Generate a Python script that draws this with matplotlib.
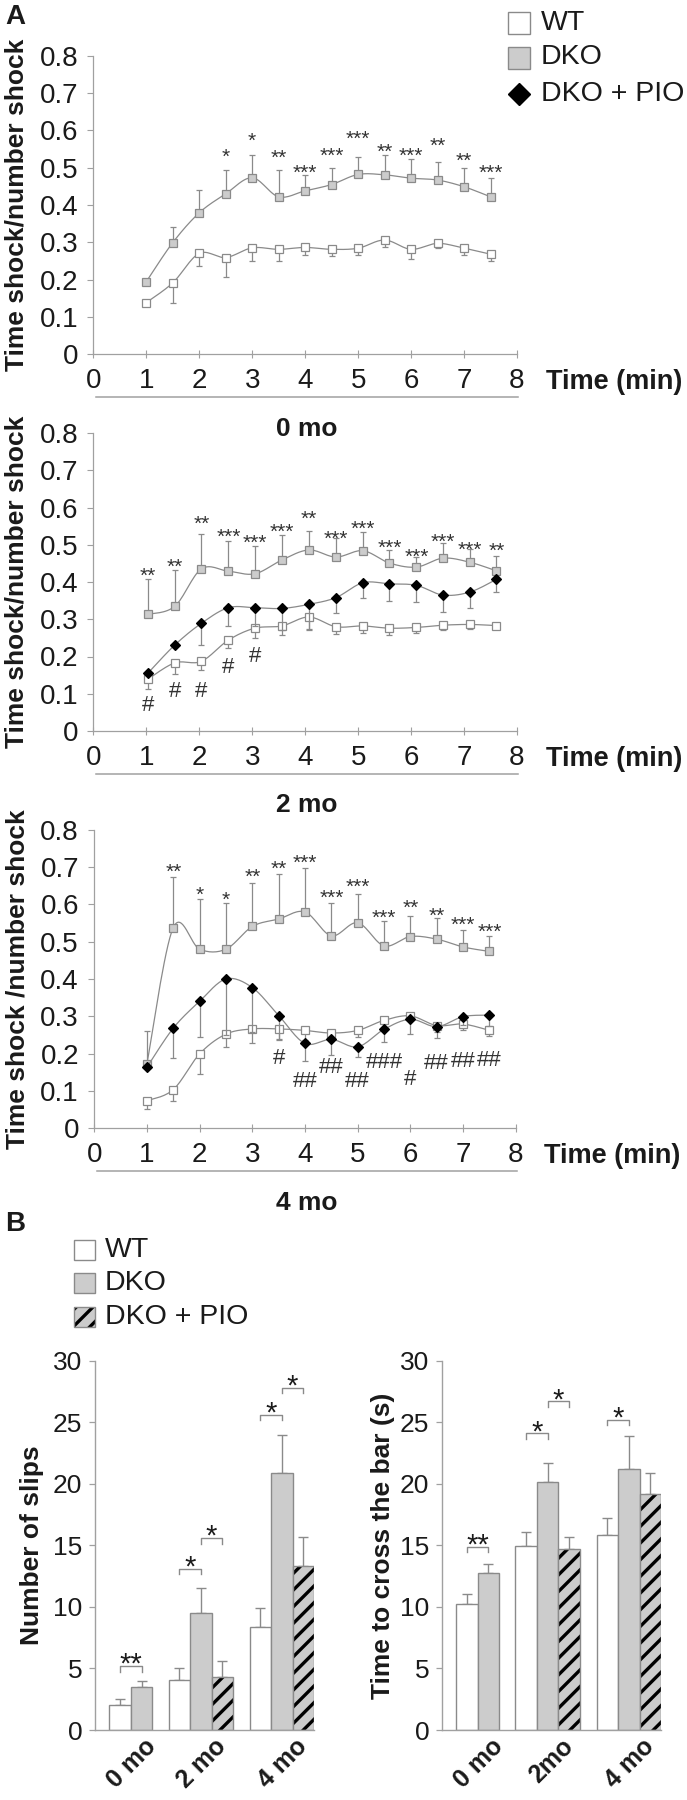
import numpy as np
import matplotlib
matplotlib.use("Agg")
import matplotlib.pyplot as plt
from matplotlib import font_manager
from matplotlib.patches import Rectangle


def pick_font(names):
    avail = {f.name for f in font_manager.fontManager.ttflist}
    for n in names:
        if n in avail:
            return n
    return "DejaVu Sans"


SANS = pick_font(["Liberation Sans", "Arial", "DejaVu Sans"])
plt.rcParams['font.family'] = [SANS, 'DejaVu Sans']
plt.rcParams['hatch.linewidth'] = 2.4

# ---------------- Panel A data ----------------
TIME = [1, 1.5, 2, 2.5, 3, 3.5, 4, 4.5, 5, 5.5, 6, 6.5, 7, 7.5]
TIME_2MO = [1.03, 1.54, 2.04, 2.55, 3.05, 3.56, 4.07, 4.58, 5.09, 5.59, 6.10, 6.60, 7.11, 7.61]

# 0 mo
WT_0MO = [0.138, 0.191, 0.270, 0.259, 0.285, 0.281, 0.286, 0.281, 0.284, 0.306, 0.281, 0.297, 0.284, 0.268]
WT_0MO_SEM = [0.0, 0.055, 0.034, 0.053, 0.035, 0.031, 0.021, 0.019, 0.019, 0.020, 0.027, 0.013, 0.019, 0.018]
DKO_0MO = [0.194, 0.299, 0.379, 0.430, 0.473, 0.422, 0.438, 0.455, 0.482, 0.481, 0.472, 0.467, 0.449, 0.422]
DKO_0MO_SEM = [0.0, 0.043, 0.061, 0.064, 0.061, 0.071, 0.043, 0.043, 0.046, 0.053, 0.051, 0.048, 0.049, 0.050]
STARS_0MO = ['', '', '', '*', '*', '**', '***', '***', '***', '**', '***', '**', '**', '***']
STARS_0MO_Y = [0, 0, 0, 0.548, 0.590, 0.543, 0.503, 0.550, 0.594, 0.560, 0.550, 0.575, 0.535, 0.503]

# 2 mo
WT_2MO = [0.139, 0.183, 0.187, 0.244, 0.276, 0.282, 0.306, 0.280, 0.282, 0.276, 0.278, 0.284, 0.286, 0.283]
WT_2MO_SEM = [0.026, 0.029, 0.024, 0.022, 0.025, 0.023, 0.033, 0.020, 0.018, 0.018, 0.014, 0.014, 0.013, 0.010]
DKO_2MO = [0.313, 0.335, 0.435, 0.429, 0.422, 0.459, 0.486, 0.467, 0.484, 0.451, 0.440, 0.464, 0.453, 0.430]
DKO_2MO_SEM = [0.094, 0.096, 0.094, 0.081, 0.074, 0.066, 0.051, 0.050, 0.050, 0.034, 0.027, 0.041, 0.036, 0.039]
PIO_2MO = [0.155, 0.231, 0.289, 0.331, 0.331, 0.329, 0.340, 0.358, 0.398, 0.395, 0.391, 0.365, 0.373, 0.407]
PIO_2MO_SEM = [0.0, 0.0, 0.057, 0.050, 0.050, 0.059, 0.070, 0.041, 0.042, 0.045, 0.044, 0.045, 0.042, 0.034]
STARS_2MO = ['**', '**', '**', '***', '***', '***', '**', '***', '***', '***', '***', '***', '***', '**']
STARS_2MO_Y = [0.433, 0.458, 0.574, 0.538, 0.523, 0.552, 0.586, 0.533, 0.561, 0.510, 0.484, 0.526, 0.505, 0.500]
HASH_2MO = ['#', '#', '#', '#', '#', '', '', '', '', '', '', '', '', '']
HASH_2MO_Y = [0.074, 0.113, 0.113, 0.177, 0.206, 0, 0, 0, 0, 0, 0, 0, 0, 0]

# 4 mo
WT_4MO = [0.073, 0.103, 0.199, 0.252, 0.266, 0.266, 0.262, 0.255, 0.262, 0.289, 0.301, 0.275, 0.279, 0.262]
WT_4MO_SEM = [0.022, 0.030, 0.053, 0.034, 0.038, 0.027, 0.025, 0.018, 0.018, 0.021, 0.011, 0.016, 0.016, 0.016]
DKO_4MO = [0.172, 0.538, 0.480, 0.480, 0.541, 0.561, 0.580, 0.516, 0.551, 0.489, 0.514, 0.507, 0.486, 0.474]
DKO_4MO_SEM = [0.089, 0.135, 0.134, 0.123, 0.116, 0.121, 0.117, 0.089, 0.076, 0.067, 0.056, 0.056, 0.045, 0.042]
PIO_4MO = [0.163, 0.268, 0.340, 0.400, 0.377, 0.302, 0.227, 0.238, 0.218, 0.265, 0.292, 0.272, 0.299, 0.303]
PIO_4MO_SEM = [0.0, 0.080, 0.096, 0.150, 0.120, 0.065, 0.048, 0.041, 0.028, 0.033, 0.040, 0.031, 0.022, 0.030]
STARS_4MO = ['', '**', '*', '*', '**', '**', '***', '***', '***', '***', '**', '**', '***', '***']
STARS_4MO_Y = [0, 0.706, 0.644, 0.630, 0.693, 0.712, 0.728, 0.635, 0.664, 0.581, 0.608, 0.587, 0.563, 0.545]
HASH_4MO = ['', '', '', '', '', '#', '##', '##', '##', '###', '#', '##', '##', '##']
HASH_4MO_Y = [0, 0, 0, 0, 0, 0.192, 0.130, 0.167, 0.130, 0.181, 0.136, 0.179, 0.183, 0.186]

# ---------------- Panel B data ----------------
AGE_LABELS_SLIPS = ['0 mo', '2 mo', '4 mo']
AGE_LABELS_TIME = ['0 mo', '2mo', '4 mo']

SLIPS_WT = [2.0, 4.1, 8.34]
SLIPS_WT_SEM = [0.53, 0.95, 1.58]
SLIPS_DKO = [3.49, 9.47, 20.9]
SLIPS_DKO_SEM = [0.53, 2.09, 3.07]
SLIPS_PIO = [np.nan, 4.32, 13.32]
SLIPS_PIO_SEM = [np.nan, 1.25, 2.32]
SLIPS_SIG = [(0, 'WT', 'DKO', 5.2, '**'), (1, 'WT', 'DKO', 13.1, '*'), (1, 'DKO', 'PIO', 15.6, '*'),
             (2, 'WT', 'DKO', 25.6, '*'), (2, 'DKO', 'PIO', 27.8, '*')]

CROSS_WT = [10.22, 14.95, 15.88]
CROSS_WT_SEM = [0.80, 1.14, 1.34]
CROSS_DKO = [12.72, 20.14, 21.21]
CROSS_DKO_SEM = [0.77, 1.55, 2.68]
CROSS_PIO = [np.nan, 14.69, 19.15]
CROSS_PIO_SEM = [np.nan, 1.01, 1.76]
CROSS_SIG = [(0, 'WT', 'DKO', 14.9, '**'), (1, 'WT', 'DKO', 24.1, '*'), (1, 'DKO', 'PIO', 26.7, '*'),
             (2, 'WT', 'DKO', 25.2, '*')]

GRAY = '#8a8a8a'
DKO_FILL = '#cccccc'
TXT = '#1a1a1a'

STYLE = {
    'WT': dict(marker='s', ms=6.4, mfc='white', mec=GRAY),
    'DKO': dict(marker='s', ms=6.4, mfc=DKO_FILL, mec=GRAY),
    'PIO': dict(marker='D', ms=4.6, mfc='black', mec='black'),
}


def smooth(x, y, n=16):
    # Excel-like smoothed connector (Catmull-Rom through the points)
    x = np.asarray(x, float)
    y = np.asarray(y, float)
    px = np.r_[x[0], x, x[-1]]
    py = np.r_[y[0], y, y[-1]]
    t = np.linspace(0, 1, n, endpoint=False)
    xs, ys = [], []
    for i in range(1, len(px) - 2):
        for arr, out in ((px, xs), (py, ys)):
            p0, p1, p2, p3 = arr[i - 1:i + 3]
            out.extend(0.5 * (2 * p1 + (-p0 + p2) * t + (2 * p0 - 5 * p1 + 4 * p2 - p3) * t ** 2
                              + (-p0 + 3 * p1 - 3 * p2 + p3) * t ** 3))
    xs.append(x[-1])
    ys.append(y[-1])
    return xs, ys


def draw_series(ax, x, y, sem, up, key, z):
    xs, ys = smooth(x, y)
    ax.plot(xs, ys, color=GRAY, lw=0.9, zorder=z)
    sem = np.asarray(sem)
    yerr = [np.zeros_like(sem), sem] if up else [sem, np.zeros_like(sem)]
    ax.errorbar(x, y, yerr=yerr, fmt='none', ecolor=GRAY, elinewidth=0.9, capsize=2.3,
                capthick=0.9, zorder=z - 0.5)
    ax.plot(x, y, ls='none', mew=0.9, zorder=z + 0.2, **STYLE[key])


def marks(ax, x, labels, ys, size, dy):
    for xi, s, yi in zip(x, labels, ys):
        if s:
            ax.annotate(s, (xi, yi), xytext=(0, dy), textcoords='offset points',
                        ha='center', va='baseline', fontsize=size, color='#333333')


def line_panel(ax, x, series, stars, stars_y, hashes, hashes_y, ylabel, title):
    for z, (y, sem, up, key) in enumerate(series):
        draw_series(ax, x, y, sem, up, key, 3 + 2 * z)
    marks(ax, x, stars, stars_y, 15, -9)
    if hashes is not None:
        marks(ax, x, hashes, hashes_y, 16, -5.5)
    ax.set_xlim(0, 8)
    ax.set_ylim(0, 0.8)
    ax.set_xticks(range(9))
    ax.set_yticks(np.arange(0, 0.81, 0.1))
    ax.set_yticklabels(['0'] + ['%.1f' % v for v in np.arange(0.1, 0.81, 0.1)])
    for s in ('top', 'right'):
        ax.spines[s].set_visible(False)
    for s in ('left', 'bottom'):
        ax.spines[s].set_color('#a0a0a0')
        ax.spines[s].set_linewidth(0.9)
    ax.tick_params(axis='y', direction='out', length=4, width=0.8, color='#a0a0a0',
                   pad=7, labelsize=20, labelcolor=TXT)
    ax.tick_params(axis='x', direction='inout', length=6, width=0.8, color='#a0a0a0',
                   pad=7, labelsize=20, labelcolor=TXT)
    ax.set_facecolor('none')
    ax.set_ylabel(ylabel, fontsize=19, fontweight='bold', color=TXT)
    ax.yaxis.set_label_coords(-0.153, 0.5)
    ax.text(1.0675, -0.094, 'Time (min)', transform=ax.transAxes, ha='left', va='center',
            fontsize=19.5, fontweight='bold', color=TXT)
    ax.plot([0.006, 1.002], [-0.144, -0.144], transform=ax.transAxes, color='#a0a0a0',
            lw=1.1, clip_on=False)
    ax.text(0.504, -0.25, title, transform=ax.transAxes, ha='center', va='center',
            fontsize=19, fontweight='bold', color=TXT)


GROUP_X = [1.67, 4.93, 8.70]


def bar_panel(ax, labels, groups, sig, ylabel, label_x):
    pos = {}
    for i, cx in enumerate(GROUP_X):
        has_pio = not np.isnan(groups['PIO'][0][i])
        offs = {'WT': -1, 'DKO': 0, 'PIO': 1} if has_pio else {'WT': -0.5, 'DKO': 0.5}
        for k, o in offs.items():
            pos[(i, k)] = cx + o
    for k in ('WT', 'DKO', 'PIO'):
        vals, sem = groups[k]
        idx = [i for i in range(3) if not np.isnan(vals[i])]
        xs = [pos[(i, k)] for i in idx]
        hs = [vals[i] for i in idx]
        es = [sem[i] for i in idx]
        if k == 'WT':
            ax.bar(xs, hs, width=1.0, color='white', edgecolor=GRAY, lw=1.0, zorder=2)
        elif k == 'DKO':
            ax.bar(xs, hs, width=1.0, color=DKO_FILL, edgecolor=GRAY, lw=1.0, zorder=2)
        else:
            ax.bar(xs, hs, width=1.0, color=DKO_FILL, edgecolor='black', hatch='//', lw=0, zorder=2)
            ax.bar(xs, hs, width=1.0, fill=False, edgecolor=GRAY, lw=1.0, zorder=2.1)
        ax.errorbar(xs, hs, yerr=[np.zeros(len(es)), es], fmt='none', ecolor=GRAY,
                    elinewidth=1.0, capsize=3.5, capthick=1.0, zorder=1.5)
    for i, a, b, h, s in sig:
        xa, xb = pos[(i, a)], pos[(i, b)]
        ax.plot([xa, xa, xb, xb], [h - 0.45, h, h, h - 0.45], color=GRAY, lw=1.0)
        ax.annotate(s, ((xa + xb) / 2, h), xytext=(0, -5), textcoords='offset points',
                    ha='center', va='baseline', fontsize=21, color=TXT)
    ax.set_xlim(0, 10.2)
    ax.set_ylim(0, 30)
    ax.set_yticks(range(0, 31, 5))
    ax.set_xticks([c + 0.62 for c in GROUP_X])
    ax.set_xticklabels(labels, rotation=45, ha='right', rotation_mode='anchor',
                       fontsize=18, fontweight='bold', color=TXT)
    for s in ('top', 'right'):
        ax.spines[s].set_visible(False)
    for s in ('left', 'bottom'):
        ax.spines[s].set_color('#a0a0a0')
        ax.spines[s].set_linewidth(1.0)
    ax.tick_params(axis='x', length=0, pad=3)
    ax.tick_params(axis='y', direction='out', length=4, width=0.9, color='#a0a0a0',
                   pad=5, labelsize=19, labelcolor=TXT)
    ax.set_facecolor('none')
    ax.set_ylabel(ylabel, fontsize=19, fontweight='bold', color=TXT)
    ax.yaxis.set_label_coords(label_x, 0.5)


fig = plt.figure(figsize=(6.87, 18), dpi=100)
W, H = 687.0, 1800.0


def rect(l, r, t, b):
    return [l / W, 1 - b / H, (r - l) / W, (b - t) / H]


# overlay in pixel coordinates for panel letters and legends
ov = fig.add_axes([0, 0, 1, 1])
ov.set_xlim(0, W)
ov.set_ylim(H, 0)
ov.axis('off')

ax0 = fig.add_axes(rect(93.3, 517, 56, 354))
ax2 = fig.add_axes(rect(93.3, 517, 433, 731))
ax4 = fig.add_axes(rect(94.2, 515.8, 830, 1128))
axs = fig.add_axes(rect(95, 314, 1360.7, 1730))
axt = fig.add_axes(rect(441.7, 661, 1360.7, 1730))

line_panel(ax0, TIME,
           [(DKO_0MO, DKO_0MO_SEM, True, 'DKO'), (WT_0MO, WT_0MO_SEM, False, 'WT')],
           STARS_0MO, STARS_0MO_Y, None, None, 'Time shock/number shock', '0 mo')
line_panel(ax2, TIME_2MO,
           [(DKO_2MO, DKO_2MO_SEM, True, 'DKO'), (WT_2MO, WT_2MO_SEM, False, 'WT'),
            (PIO_2MO, PIO_2MO_SEM, False, 'PIO')],
           STARS_2MO, STARS_2MO_Y, HASH_2MO, HASH_2MO_Y, 'Time shock/number shock', '2 mo')
line_panel(ax4, TIME,
           [(DKO_4MO, DKO_4MO_SEM, True, 'DKO'), (WT_4MO, WT_4MO_SEM, False, 'WT'),
            (PIO_4MO, PIO_4MO_SEM, False, 'PIO')],
           STARS_4MO, STARS_4MO_Y, HASH_4MO, HASH_4MO_Y, 'Time shock /number shock', '4 mo')

bar_panel(axs, AGE_LABELS_SLIPS,
          {'WT': (SLIPS_WT, SLIPS_WT_SEM), 'DKO': (SLIPS_DKO, SLIPS_DKO_SEM),
           'PIO': (SLIPS_PIO, SLIPS_PIO_SEM)},
          SLIPS_SIG, 'Number of slips', -0.233)
bar_panel(axt, AGE_LABELS_TIME,
          {'WT': (CROSS_WT, CROSS_WT_SEM), 'DKO': (CROSS_DKO, CROSS_DKO_SEM),
           'PIO': (CROSS_PIO, CROSS_PIO_SEM)},
          CROSS_SIG, 'Time to cross the bar (s)', -0.213)

# panel letters
ov.text(15, 17, 'A', ha='center', va='center', fontsize=20, fontweight='bold', color=TXT)
ov.text(15, 1224, 'B', ha='center', va='center', fontsize=20, fontweight='bold', color=TXT)

# legend A
LEGEND_NAMES = ['WT', 'DKO', 'DKO + PIO']
for yy, key, name in zip([22.5, 57.5, 94], ['WT', 'DKO', 'PIO'], LEGEND_NAMES):
    st = dict(STYLE[key])
    st['ms'] = 15.5 if key != 'PIO' else 11
    ov.plot([519], [yy], ls='none', mew=1.0, **st)
    ov.text(541, yy, name, ha='left', va='center', fontsize=20.5, color=TXT)

# legend B
for yy, key, name in zip([1250, 1283.3, 1316.7], ['WT', 'DKO', 'PIO'], LEGEND_NAMES):
    if key == 'WT':
        ov.add_patch(Rectangle((74, yy - 10), 21, 20, facecolor='white', edgecolor=GRAY, lw=1))
    elif key == 'DKO':
        ov.add_patch(Rectangle((74, yy - 10), 21, 20, facecolor=DKO_FILL, edgecolor=GRAY, lw=1))
    else:
        ov.add_patch(Rectangle((74, yy - 10), 21, 20, facecolor=DKO_FILL, edgecolor='black',
                               hatch='//', lw=0))
        ov.add_patch(Rectangle((74, yy - 10), 21, 20, fill=False, edgecolor=GRAY, lw=1))
    ov.text(105, yy, name, ha='left', va='center', fontsize=20.5, color=TXT)

fig.savefig('out.png', dpi=100)
